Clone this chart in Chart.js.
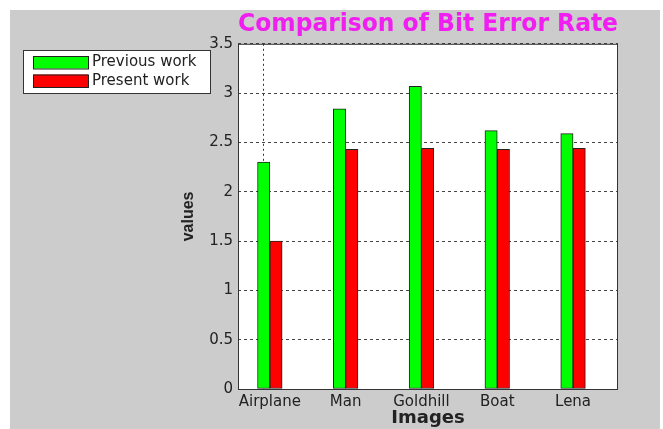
<!DOCTYPE html>
<html>
<head>
<meta charset="utf-8">
<script src="https://cdn.jsdelivr.net/npm/chart.js@4"></script>
<style>
  html, body { margin: 0; padding: 0; background: #fff; }
  #wrap { width: 663px; height: 429px; }
</style>
</head>
<body>
<div id="wrap"><canvas id="berChart" width="663" height="429"></canvas></div>
<script>
let categories = ["Airplane", "Man", "Goldhill", "Boat", "Lena"];
let previousWork = [2.30, 2.84, 3.07, 2.62, 2.59];
let presentWork = [1.50, 2.43, 2.44, 2.43, 2.44];
let yTicks = [0, 0.5, 1, 1.5, 2, 2.5, 3, 3.5];
let markerX = 0.91; // the single vertical grid line

// grey figure background, white plot area, frame and legend box
let figurePlugin = {
    id: 'figure',
    beforeDraw(chart) {
        let c = chart.ctx, a = chart.chartArea;
        c.save();
        c.fillStyle = '#fff';
        c.fillRect(0, 0, chart.width, chart.height);
        c.fillStyle = '#cccccc';
        c.fillRect(10, 10, 650, 419);
        c.fillStyle = '#fff';
        c.fillRect(a.left, a.top, a.right - a.left, a.bottom - a.top);
        c.restore();
    },
    afterDatasetsDraw(chart) {
        let c = chart.ctx, a = chart.chartArea;
        c.save();
        c.strokeStyle = '#333';
        c.lineWidth = 1;
        c.strokeRect(a.left + 0.5, a.top + 0.5, a.right - a.left - 1, a.bottom - a.top);
        c.restore();
    },
    afterDraw(chart) {
        let c = chart.ctx;
        c.save();
        c.fillStyle = '#fff';
        c.fillRect(23, 50, 187, 43);
        c.strokeStyle = '#333';
        c.lineWidth = 1;
        c.strokeRect(23.5, 50.5, 187, 43);
        c.font = '15px "DejaVu Sans"';
        c.textBaseline = 'middle';
        chart.data.datasets.forEach((ds, i) => {
            let y = 56 + i * 18.5;
            c.fillStyle = ds.backgroundColor;
            c.fillRect(33, y, 55, 12.5);
            c.strokeStyle = '#222';
            c.strokeRect(33.5, y + 0.5, 55, 12.5);
            c.fillStyle = '#222';
            c.fillText(ds.label, 92, y + 6.5);
        });
        c.restore();
    }
};

let ctx = document.getElementById("berChart").getContext("2d");

let chart = new Chart(ctx, {
    type: 'bar',
    data: {
        datasets: [{
            label: 'Previous work',
            data: previousWork.map((v, i) => ({ x: i + 1, y: v })),
            backgroundColor: '#00ff00',
            borderColor: '#222',
            borderWidth: 1,
            borderSkipped: false,
            barThickness: 12.3
        }, {
            label: 'Present work',
            data: presentWork.map((v, i) => ({ x: i + 1, y: v })),
            backgroundColor: '#ff0000',
            borderColor: '#222',
            borderWidth: 1,
            borderSkipped: false,
            barThickness: 12.3
        }]
    },
    options: {
        responsive: false,
        animation: false,
        layout: { padding: { left: 170, right: 45, top: 0, bottom: 0 } },
        plugins: {
            legend: { display: false },
            tooltip: { enabled: false },
            title: {
                display: true,
                text: 'Comparison of Bit Error Rate',
                fullSize: false,
                color: '#f01ef0',
                font: { family: '"DejaVu Sans"', size: 24, weight: 'bold' },
                padding: { top: 10, bottom: 5 }
            }
        },
        scales: {
            x: {
                type: 'linear',
                offset: false,
                min: 0.58,
                max: 5.593,
                afterBuildTicks: s => {
                    s.ticks = [markerX].concat(categories.map((c, i) => i + 1)).map(v => ({ value: v }));
                },
                afterFit: s => { s.height = 40; },
                ticks: {
                    autoSkip: false,
                    maxRotation: 0,
                    padding: 4,
                    color: '#222',
                    font: { family: '"DejaVu Sans"', size: 15 },
                    callback: v => Number.isInteger(v) ? categories[v - 1] : ''
                },
                grid: {
                    offset: false,
                    drawTicks: false,
                    color: c => c.tick && c.tick.value === markerX ? '#333' : 'transparent'
                },
                border: { display: false, dash: [2, 3] },
                title: {
                    display: true,
                    text: 'Images',
                    color: '#222',
                    font: { family: '"DejaVu Sans"', size: 18, weight: 'bold' },
                    padding: { top: 0, bottom: 0 }
                }
            },
            y: {
                min: 0,
                max: 3.5,
                afterBuildTicks: s => { s.ticks = yTicks.map(v => ({ value: v })); },
                afterFit: s => { s.width = 68; },
                ticks: {
                    padding: 5,
                    color: '#222',
                    font: { family: '"DejaVu Sans"', size: 15 },
                    callback: v => String(v)
                },
                grid: { drawTicks: false, color: '#444' },
                border: { display: false, dash: [3, 3] },
                title: {
                    display: true,
                    text: 'values',
                    color: '#222',
                    font: { family: '"Liberation Sans"', size: 16, weight: 'bold' },
                    padding: { top: 9, bottom: 0 }
                }
            }
        }
    },
    plugins: [figurePlugin]
});
</script>
</body>
</html>
